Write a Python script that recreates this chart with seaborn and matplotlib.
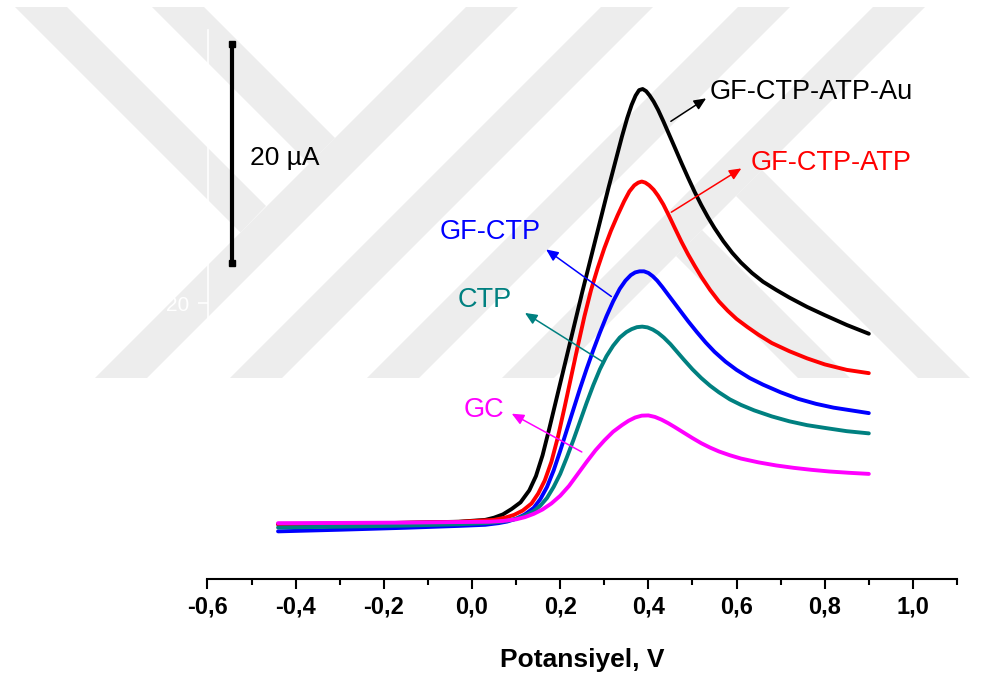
import matplotlib
matplotlib.use("Agg")
import matplotlib.pyplot as plt
from matplotlib.patches import Polygon
from matplotlib.ticker import MultipleLocator
import pandas as pd
import seaborn as sns

# ---------------- data (potential in V, current in uA) ----------------
names = ["GF-CTP-ATP-Au", "GF-CTP-ATP", "GF-CTP", "CTP", "GC"]
colors = ["#000000", "#ff0000", "#0000ff", "#008080", "#ff00ff"]

v_au = [-0.44, -0.20, -0.03, 0.03, 0.05, 0.07, 0.09, 0.11, 0.13, 0.145, 0.16, 0.175, 0.19, 0.205,
        0.22, 0.235, 0.25, 0.265, 0.28, 0.295, 0.31, 0.325, 0.34, 0.352, 0.362, 0.371, 0.379, 0.387,
        0.395, 0.403, 0.412, 0.422, 0.434, 0.447, 0.46, 0.475, 0.49, 0.505, 0.52, 0.535, 0.55, 0.57,
        0.59, 0.61, 0.635, 0.66, 0.69, 0.72, 0.76, 0.80, 0.85, 0.90]
i_au = [-0.2, -0.1, 0.03, 0.2, 0.4, 0.7, 1.2, 1.8, 2.9, 4.2, 6.1, 8.5, 11.0, 13.5,
        16.0, 18.5, 21.0, 23.4, 25.8, 28.2, 30.6, 32.9, 35.2, 36.9, 38.1, 38.95, 39.45, 39.55,
        39.35, 38.95, 38.4, 37.65, 36.6, 35.4, 34.2, 32.8, 31.45, 30.15, 28.95, 27.85, 26.85, 25.65,
        24.6, 23.7, 22.75, 21.95, 21.2, 20.5, 19.65, 18.9, 18.0, 17.2]

v_atp = [-0.44, -0.20, -0.03, 0.05, 0.075, 0.095, 0.115, 0.135, 0.15, 0.165, 0.18, 0.195, 0.21,
         0.225, 0.24, 0.255, 0.27, 0.285, 0.30, 0.315, 0.33, 0.345, 0.357, 0.368, 0.377, 0.385,
         0.393, 0.402, 0.412, 0.422, 0.434, 0.447, 0.46, 0.475, 0.49, 0.505, 0.52, 0.54, 0.56, 0.58,
         0.60, 0.625, 0.65, 0.68, 0.72, 0.76, 0.80, 0.85, 0.90]
i_atp = [-0.2, -0.1, 0.02, 0.2, 0.4, 0.65, 1.05, 1.7, 2.6, 3.8, 5.5, 7.8, 10.5,
         13.3, 16.1, 18.8, 21.2, 23.2, 25.0, 26.6, 28.0, 29.3, 30.2, 30.75, 31.0, 31.1,
         31.0, 30.75, 30.35, 29.8, 29.0, 27.95, 26.85, 25.6, 24.45, 23.4, 22.4, 21.2, 20.15, 19.3,
         18.55, 17.8, 17.1, 16.35, 15.6, 14.95, 14.4, 13.9, 13.6]

v_gf = [-0.44, -0.30, -0.15, -0.03, 0.03, 0.06, 0.08, 0.10, 0.12, 0.14, 0.155, 0.17, 0.185, 0.20,
        0.215, 0.23, 0.245, 0.26, 0.275, 0.29, 0.305, 0.32, 0.335, 0.348, 0.36, 0.37, 0.38, 0.39,
        0.40, 0.41, 0.42, 0.432, 0.445, 0.46, 0.475, 0.49, 0.51, 0.53, 0.55, 0.575, 0.60, 0.63,
        0.66, 0.70, 0.74, 0.78, 0.82, 0.86, 0.90]
i_gf = [-0.85, -0.7, -0.52, -0.35, -0.25, -0.1, 0.05, 0.3, 0.7, 1.3, 2.1, 3.2, 4.7, 6.5,
        8.4, 10.3, 12.2, 14.0, 15.7, 17.3, 18.8, 20.15, 21.3, 22.05, 22.55, 22.8, 22.9, 22.9,
        22.75, 22.45, 22.05, 21.45, 20.75, 19.95, 19.15, 18.35, 17.35, 16.4, 15.55, 14.65, 13.9, 13.15,
        12.55, 11.85, 11.25, 10.8, 10.45, 10.2, 9.95]

v_ctp = [-0.44, -0.30, -0.15, -0.03, 0.03, 0.06, 0.08, 0.10, 0.12, 0.14, 0.155, 0.17, 0.185, 0.20,
         0.215, 0.23, 0.245, 0.26, 0.275, 0.29, 0.305, 0.32, 0.335, 0.35, 0.362, 0.374, 0.386,
         0.398, 0.41, 0.422, 0.435, 0.45, 0.465, 0.48, 0.50, 0.52, 0.54, 0.56, 0.585, 0.61, 0.64,
         0.68, 0.72, 0.76, 0.80, 0.85, 0.90]
i_ctp = [-0.5, -0.42, -0.32, -0.2, -0.1, 0.0, 0.12, 0.3, 0.6, 1.0, 1.5, 2.2, 3.2, 4.4,
         5.9, 7.5, 9.2, 10.9, 12.5, 13.95, 15.15, 16.1, 16.85, 17.35, 17.62, 17.8, 17.85,
         17.78, 17.58, 17.28, 16.85, 16.25, 15.55, 14.85, 13.95, 13.15, 12.45, 11.85, 11.2, 10.7, 10.2,
         9.65, 9.2, 8.85, 8.6, 8.3, 8.1]

v_gc = [-0.44, -0.30, -0.15, -0.03, 0.04, 0.07, 0.10, 0.12, 0.14, 0.16, 0.18, 0.20, 0.22, 0.24,
        0.26, 0.28, 0.30, 0.32, 0.34, 0.355, 0.37, 0.385, 0.40, 0.415, 0.43, 0.445, 0.46, 0.48,
        0.50, 0.52, 0.54, 0.56, 0.585, 0.61, 0.65, 0.69, 0.73, 0.77, 0.81, 0.855, 0.90]
i_gc = [-0.1, -0.08, -0.05, 0.0, 0.03, 0.1, 0.25, 0.45, 0.75, 1.15, 1.7, 2.4, 3.3, 4.4,
        5.5, 6.55, 7.45, 8.25, 8.85, 9.25, 9.55, 9.72, 9.74, 9.6, 9.35, 9.03, 8.67, 8.17,
        7.67, 7.2, 6.8, 6.45, 6.1, 5.8, 5.45, 5.17, 4.95, 4.77, 4.62, 4.5, 4.4]

# label text position, arrow tail (on curve) and arrow head
label_pos = [(0.54, 39.3), (0.633, 32.8), (-0.073, 26.5), (-0.032, 20.3), (-0.02, 10.2)]
arrow_tail = [(0.451, 36.6), (0.452, 28.3), (0.316, 20.6), (0.298, 14.6), (0.249, 6.4)]
arrow_head = [(0.531, 38.7), (0.611, 32.3), (0.168, 24.9), (0.12, 19.1), (0.09, 9.9)]

# 20 uA scale bar
bar_v = [-0.544, -0.544]
bar_i = [23.66, 43.66]
bar_text = "20 µA"

x_major = [-0.6, -0.4, -0.2, 0.0, 0.2, 0.4, 0.6, 0.8, 1.0]
x_labels = ["-0,6", "-0,4", "-0,2", "0,0", "0,2", "0,4", "0,6", "0,8", "1,0"]
y_ticks = [20]
y_labels = ["20"]

# ---------------- figure ----------------
sns.set_style("ticks")
plt.rcParams['font.family'] = ['Liberation Sans', 'DejaVu Sans']
plt.rcParams['text.color'] = 'black'
plt.rcParams['axes.labelcolor'] = 'black'
plt.rcParams['xtick.color'] = 'black'

W, H = 986, 676
fig = plt.figure(figsize=(W / 100, H / 100), dpi=100, facecolor="white")

# light gray watermark bands behind the plot (pixel coords, y down)
bands = []
for x0 in [95, 230, 367, 502]:
    bands.append([(x0, 378), (x0 + 52, 378), (x0 + 52 + 371, 7), (x0 + 371, 7)])
bands.append([(15, 7), (67, 7), (266, 206), (240.5, 232.5)])
bands.append([(152, 7), (204, 7), (335, 138), (309, 164)])
bands.append([(736, 196), (762, 170), (970, 378), (918, 378)])
bands.append([(676, 256), (702, 230), (850, 378), (798, 378)])
for b in bands:
    pts = [(x / W, 1 - y / H) for x, y in b]
    fig.patches.append(Polygon(pts, closed=True, transform=fig.transFigure,
                               facecolor="#ededed", edgecolor="none", zorder=-1))

ax = fig.add_axes([207.5 / W, 1 - 579 / H, (957 - 207.5) / W, (579 - 30) / H])
ax.set_facecolor("none")

frames = []
for n, v, i in zip(names, [v_au, v_atp, v_gf, v_ctp, v_gc], [i_au, i_atp, i_gf, i_ctp, i_gc]):
    frames.append(pd.DataFrame({"V": v, "I": i, "sample": n}))
df = pd.concat(frames, ignore_index=True)

sns.lineplot(data=df, x="V", y="I", hue="sample", hue_order=names,
             palette=dict(zip(names, colors)), sort=False, estimator=None,
             legend=False, linewidth=2.8, ax=ax,
             solid_joinstyle="round", solid_capstyle="round")

# labels and arrows
for n, c, lp, t, h in zip(names, colors, label_pos, arrow_tail, arrow_head):
    ax.text(lp[0], lp[1], n, color=c, fontsize=19.5, ha="left", va="center")
    ax.annotate("", xy=h, xytext=t,
                arrowprops=dict(arrowstyle="-|>,head_length=0.45,head_width=0.2",
                                color=c, lw=1.1, shrinkA=0, shrinkB=0, mutation_scale=16))

# scale bar
ax.plot(bar_v, bar_i, color="black", lw=3, marker="s", markersize=4, solid_capstyle="butt")
ax.text(-0.503, 33.25, bar_text, fontsize=19, ha="left", va="center", color="black")

ax.set_xlim(-0.6, 1.1)
ax.set_ylim(-5.2, 44.94)
ax.set_xticks(x_major)
ax.set_xticklabels(x_labels, fontsize=17, fontweight="bold", color="black")
ax.xaxis.set_minor_locator(MultipleLocator(0.1))
ax.tick_params(axis="x", which="major", length=7, width=1.5, direction="out", pad=5, color="black")
ax.tick_params(axis="x", which="minor", length=4.3, width=1.5, direction="out", color="black")
ax.set_yticks(y_ticks)
ax.set_yticklabels(y_labels, fontsize=15, color="white")
ax.tick_params(axis="y", length=7, width=1.2, color="white", pad=6)

ax.set_xlabel("Potansiyel, V", fontsize=19, fontweight="bold", labelpad=21, color="black")
ax.set_ylabel("")

ax.spines["bottom"].set_linewidth(1.5)
ax.spines["bottom"].set_color("black")
ax.spines["left"].set_color("white")
ax.spines["left"].set_linewidth(1.2)
ax.spines["top"].set_visible(False)
ax.spines["right"].set_visible(False)

fig.savefig("out.png", dpi=100, facecolor="white")
